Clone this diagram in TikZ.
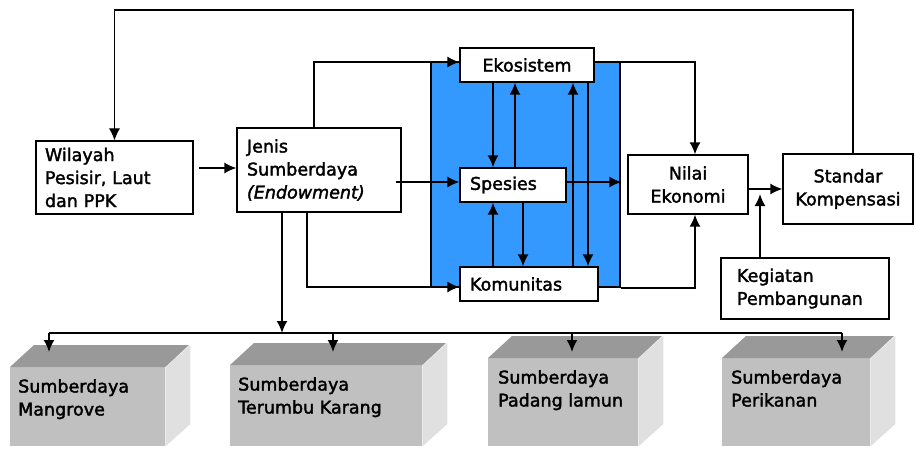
\documentclass[tikz,border=0pt]{standalone}
\usepackage{fontspec}
\setmainfont[FakeBold=2,ItalicFeatures={FakeBold=2}]{DejaVu Sans}
\usetikzlibrary{arrows.meta,calc}
\definecolor{ecoblue}{HTML}{3399FF}
\definecolor{cubetop}{HTML}{999999}
\definecolor{cubefront}{HTML}{C0C0C0}
\definecolor{cubeside}{HTML}{E0E0E0}
\tikzset{
  box/.style={draw,fill=white,line width=1.2pt,inner ysep=0pt,font=\fontsize{17.5}{23}\selectfont},
  link/.style={draw,line width=1.8pt,->},
  thinlink/.style={draw,line width=1.1pt,->},
  front/.style={fill=cubefront,inner sep=0pt},
}
\begin{document}
\begin{tikzpicture}[x=1pt,y=-1pt,>={Latex[length=12pt,width=11pt]}]
            \useasboundingbox (0,0) rectangle (915,448);
            \coordinate (topline) at (480,10);
            \coordinate (bus) at (0,333);
            \coordinate (drop) at (0,352);
            \node[draw,fill=ecoblue,line width=1.2pt,inner sep=0pt,minimum width=189pt,minimum height=225pt] at (525.5,174.5)(zone){};
            \node[box,text width=139pt,inner xsep=9pt,minimum height=73pt,align=left] at (114.5,177.5)(wil){Wilayah\\Pesisir, Laut\\dan PPK};
            \node[box,text width=144pt,inner xsep=10pt,minimum height=84pt,align=left] at (319,170)(jen){Jenis\\Sumberdaya\\\textit{(Endowment)}};
            \node[box,minimum width=134pt,minimum height=34pt] at (527,65)(eko){Ekosistem};
            \node[box,text width=86pt,inner xsep=10pt,minimum height=34pt,align=left] at (513,185)(spe){Spesies};
            \node[box,text width=118pt,inner xsep=10pt,minimum height=34pt,align=left] at (529,284)(kom){Komunitas};
            \node[box,minimum width=120pt,minimum height=59pt,align=center] at (688,184.5)(nil){Nilai\\Ekonomi};
            \node[box,minimum width=130pt,minimum height=70pt,align=center] at (848,189)(sta){Standar\\Kompensasi};
            \node[box,text width=136pt,inner xsep=16pt,minimum height=61pt,align=left] at (805,288.5)(keg){Kegiatan\\Pembangunan};
            % resource blocks
            \foreach \nm/\xa/\xb/\yt/\pad/\xd/\lbl in {mgr/10/165/367/8/49/{Sumberdaya\\Mangrove},ter/230/422/365/8/333/{Sumberdaya\\Terumbu Karang},pdl/488/638/358/10/572/{Sumberdaya\\Padang lamun},ikn/722/870/358/9/842/{Sumberdaya\\Perikanan}}{
                \node[front,minimum width=\xb-\xa,minimum height=446-\yt,anchor=north west] at (\xa,\yt)(\nm){};
                \fill[cubetop] (\nm.north west) -- ++(24,-22) -- ++(\xb-\xa,0) -- (\nm.north east) -- cycle;
                \fill[cubeside] (\nm.north east) -- ++(25,-22) -- ++(0,446-\yt) -- (\nm.south east) -- cycle;
                \node[anchor=north west,align=left,inner sep=0pt,font=\fontsize{17.5}{23}\selectfont] at ($(\nm.north west)+(\pad,12)$)(\nm t){\lbl};
                \path[link] (\xd,0 |- bus) -- (\xd,0 |- drop);
            }
            \draw[line width=1.8pt] (49,0 |- bus) -- (842,0 |- bus);
            % connectors
            \path[thinlink] ($(sta.north)+(5,0)$) |- (topline) -| (wil.north);
            \path[link] ($(wil.east)+(5,-9.5)$) -- ($(wil.east -| jen.west)+(0,-9.5)$);
            \path[link] ($(jen.north)+(-5,0)$) |- ($(eko.west)+(0,-3)$);
            \path[link] ($(jen.east)+(-6,12)$) -- ($(spe.west)+(0,-3)$);
            \path[link] ($(jen.south)+(-37,0)$) -- ($(jen.south |- bus)+(-37,0)$);
            \path[link] ($(jen.south)+(-12,0)$) |- ($(kom.west)+(0,3)$);
            \path[link] ($(eko.south)+(-34,0)$) -- ($(eko.south |- spe.north)+(-34,0)$);
            \path[link] ($(spe.north)+(2,0)$) -- ($(spe.north |- eko.south)+(2,0)$);
            \path[link] ($(kom.north)+(-36,0)$) -- ($(kom.north |- spe.south)+(-36,0)$);
            \path[link] ($(spe.south)+(10,0)$) -- ($(spe.south |- kom.north)+(10,0)$);
            \path[link] ($(kom.north)+(44,0)$) -- ($(kom.north |- eko.south)+(44,0)$);
            \path[link] ($(eko.south)+(61,0)$) -- ($(eko.south |- kom.north)+(61,0)$);
            \path[link] ($(eko.east)+(0,-3)$) -| ($(nil.north)+(7,0)$);
            \path[link] ($(spe.east)+(0,-3)$) -- ($(spe.east -| nil.west)+(-6,-3)$);
            \path[link] (zone.south east) -| ($(nil.south)+(7,0)$);
            \path[link] (nil.east |- sta.west) -- (sta.west);
            \path[link] ($(keg.north)+(-45,0)$) -- ($(keg.north |- sta.west)+(-45,5)$);
        \end{tikzpicture}
\end{document}
